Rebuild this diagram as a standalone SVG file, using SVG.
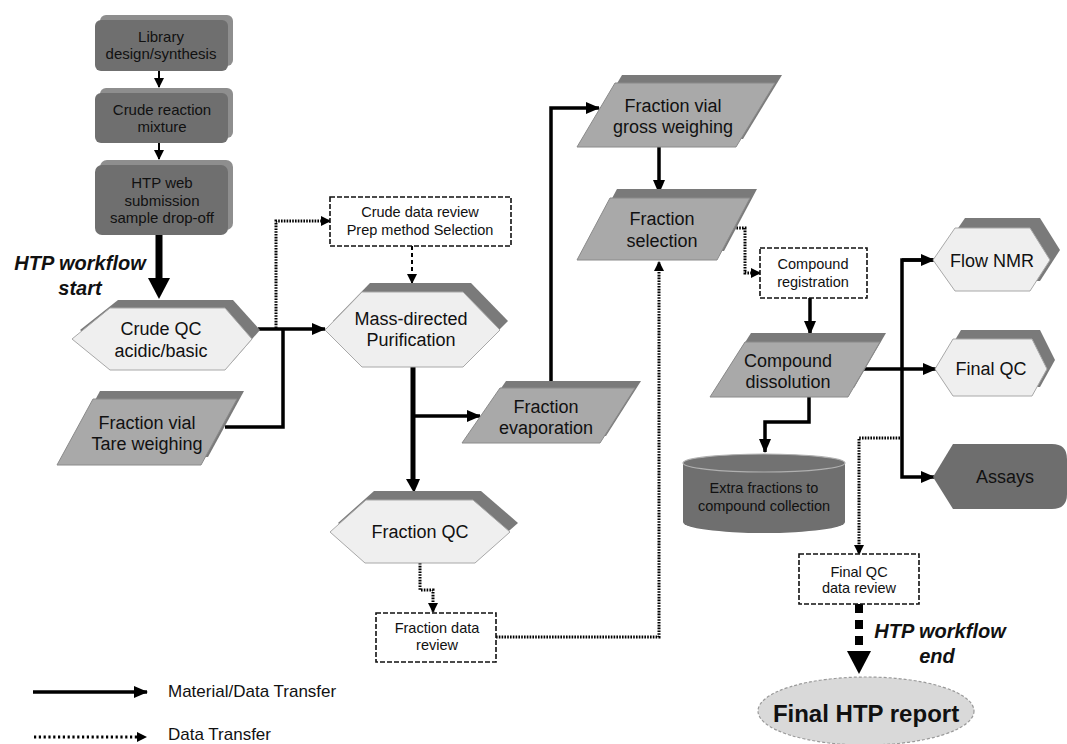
<svg xmlns="http://www.w3.org/2000/svg" width="1067" height="744" viewBox="0 0 1067 744">
<defs>
<style>
text{font-family:"Liberation Sans",Arial,sans-serif;fill:#111;text-anchor:middle}
.t18{font-size:18px}
.t15{font-size:15px}
.t145{font-size:14.5px}
.hi{font-size:20px;font-weight:bold;font-style:italic}
.dark{fill:#6f6f6f}
.darksh{fill:#8e8e8e}
.light{fill:#efefef;stroke:#a8a8a8;stroke-width:1}
.mid{fill:#a9a9a9;stroke:#8a8a8a;stroke-width:1}
.sh{fill:#7a7a7a}
.dbox{fill:#fff;stroke:#111;stroke-width:1.6;stroke-dasharray:5 2}
.solid{fill:none;stroke:#000;stroke-width:3.5}
.thin{fill:none;stroke:#000;stroke-width:2}
.dot{fill:none;stroke:#000;stroke-width:3;stroke-dasharray:1.6 1.2}
.dash{fill:none;stroke:#000;stroke-width:2;stroke-dasharray:4 3}
</style>
<marker id="ah" markerUnits="userSpaceOnUse" markerWidth="14" markerHeight="12" refX="13" refY="6" orient="auto"><path d="M0,0 L14,6 L0,12 Z" fill="#000"/></marker>
<marker id="ahs" markerUnits="userSpaceOnUse" markerWidth="10" markerHeight="10" refX="9" refY="5" orient="auto"><path d="M0,0 L10,5 L0,10 Z" fill="#000"/></marker>
</defs>
<rect width="1067" height="744" fill="#fff"/>

<g id="connectors">
<path class="thin" d="M159,71 V87" marker-end="url(#ahs)"/>
<path class="thin" d="M159,143 V159" marker-end="url(#ahs)"/>
<path d="M159,235 V280" stroke="#000" stroke-width="7" fill="none"/>
<path d="M148,278 L170,278 L159,299 Z" fill="#000"/>
<path class="solid" d="M258,329 H325" marker-end="url(#ah)"/>
<path class="solid" d="M225,427 H283 V329"/>
<path class="dot" d="M276,328 V221 H330" marker-end="url(#ahs)"/>
<path class="dash" d="M412,246 V283" marker-end="url(#ahs)"/>
<path d="M413,367 V480" stroke="#000" stroke-width="5" fill="none"/>
<path d="M406,479 L420,479 L414,493 Z" fill="#000"/>
<path class="solid" d="M413,416 H480" marker-end="url(#ah)"/>
<path class="solid" d="M551,381 V108 H599" marker-end="url(#ah)"/>
<path class="solid" d="M659,147 V193" marker-end="url(#ah)"/>
<path class="dot" d="M420,563 V590 H433 V612" marker-end="url(#ahs)"/>
<path class="dot" d="M496,637 H659 V262" marker-end="url(#ahs)"/>
<path class="dot" d="M728,228 H745 V273 H760" marker-end="url(#ahs)"/>
<path class="solid" d="M810,298 V334" marker-end="url(#ah)"/>
<path class="solid" d="M863,369 H936" marker-end="url(#ah)"/>
<path class="solid" d="M933,260 H902 V477 H934" marker-end="url(#ah)"/>
<path class="solid" d="M902,260 H934" marker-end="url(#ah)"/>
<path class="solid" d="M809,397 V422 H765 V452" marker-end="url(#ah)"/>
<path class="dot" d="M900,438 H859 V554" marker-end="url(#ahs)"/>
<path d="M859,604 V652" stroke="#000" stroke-width="8" stroke-dasharray="9 7" fill="none"/>
<path d="M847,651 L871,651 L859,674 Z" fill="#000"/>
</g>

<g id="library">
<rect class="darksh" x="100" y="15" width="133" height="51" rx="6"/>
<rect class="dark" x="95" y="20" width="133" height="51" rx="6"/>
<text class="t15" x="161" y="42">Library</text>
<text class="t15" x="161" y="59">design/synthesis</text>
</g>
<g id="crude-reaction">
<rect class="darksh" x="100" y="88" width="133" height="50" rx="6"/>
<rect class="dark" x="95" y="93" width="133" height="50" rx="6"/>
<text class="t15" x="162" y="115">Crude reaction</text>
<text class="t15" x="162" y="132">mixture</text>
</g>
<g id="htp-web">
<rect class="darksh" x="100" y="160" width="133" height="70" rx="7"/>
<rect class="dark" x="95" y="165" width="133" height="70" rx="7"/>
<text class="t15" x="162" y="188">HTP web</text>
<text class="t15" x="162" y="206">submission</text>
<text class="t15" x="162" y="223">sample drop-off</text>
</g>
<g id="start-label">
<text class="hi" x="80" y="270">HTP workflow</text>
<text class="hi" x="80" y="295">start</text>
</g>

<g id="crude-qc">
<polygon class="sh" points="80,330 118,300 233,300 260,330 233,361 118,361"/>
<polygon class="light" points="72,339 110,308 225,308 252,339 225,370 110,370"/>
<text class="t18" x="161" y="335">Crude QC</text>
<text class="t18" x="161" y="357">acidic/basic</text>
</g>
<g id="tare">
<polygon class="sh" points="100,391 244,391 208,457 64,457"/>
<polygon class="mid" points="93,399 237,399 201,465 57,465"/>
<text class="t18" x="147" y="429">Fraction vial</text>
<text class="t18" x="147" y="450">Tare weighing</text>
</g>
<g id="crude-review">
<rect class="dbox" x="330" y="197" width="181" height="49"/>
<text class="t145" x="420" y="217">Crude data review</text>
<text class="t145" x="420" y="235">Prep method Selection</text>
</g>
<g id="mass-directed">
<polygon class="sh" points="333,321 370,283 471,283 508,321 471,358 370,358"/>
<polygon class="light" points="325,330 362,292 463,292 500,330 463,367 362,367"/>
<text class="t18" x="411" y="325">Mass-directed</text>
<text class="t18" x="411" y="346">Purification</text>
</g>
<g id="evaporation">
<polygon class="sh" points="506,381 641,381 606,436 468,436"/>
<polygon class="mid" points="500,388 635,388 600,443 462,443"/>
<text class="t18" x="546" y="413">Fraction</text>
<text class="t18" x="546" y="434">evaporation</text>
</g>
<g id="fraction-qc">
<polygon class="sh" points="338,523 374,491 481,491 518,523 483,554 373,554"/>
<polygon class="light" points="330,532 366,500 473,500 510,532 475,563 365,563"/>
<text class="t18" x="420" y="538">Fraction QC</text>
</g>
<g id="fraction-review">
<rect class="dbox" x="376" y="613" width="120" height="49"/>
<text class="t145" x="437" y="633">Fraction data</text>
<text class="t145" x="437" y="650">review</text>
</g>
<g id="gross-weighing">
<polygon class="sh" points="622,75 782,75 743,139 584,139"/>
<polygon class="mid" points="615,83 775,83 736,147 577,147"/>
<text class="t18" x="673" y="112">Fraction vial</text>
<text class="t18" x="673" y="133">gross weighing</text>
</g>
<g id="selection">
<polygon class="sh" points="617,189 757,189 724,251 584,251"/>
<polygon class="mid" points="610,198 750,198 717,260 577,260"/>
<text class="t18" x="662" y="225">Fraction</text>
<text class="t18" x="662" y="247">selection</text>
</g>
<g id="registration">
<rect class="dbox" x="760" y="248" width="107" height="50"/>
<text class="t145" x="813" y="269">Compound</text>
<text class="t145" x="813" y="287">registration</text>
</g>
<g id="dissolution">
<polygon class="sh" points="751,333 886,333 854,388 716,388"/>
<polygon class="mid" points="745,342 880,342 848,397 710,397"/>
<text class="t18" x="788" y="367">Compound</text>
<text class="t18" x="788" y="388">dissolution</text>
</g>
<g id="extra-fractions">
<path d="M683,463 V522 A81,11 0 0 0 845,522 V463 Z" fill="#6f6f6f"/>
<ellipse cx="764" cy="463" rx="81" ry="9" fill="#727272" stroke="#b0b0b0" stroke-width="1.2"/>
<text class="t145" x="764" y="493">Extra fractions to</text>
<text class="t145" x="764" y="511">compound collection</text>
</g>
<g id="flow-nmr">
<polygon class="sh" points="943,250 965,218 1040,218 1060,250 1040,281 965,281"/>
<polygon class="light" points="933,260 955,228 1030,228 1050,260 1030,291 955,291"/>
<text class="t18" x="992" y="267">Flow NMR</text>
</g>
<g id="final-qc">
<polygon class="sh" points="943,360 961,330 1040,330 1055,360 1040,387 961,387"/>
<polygon class="light" points="935,369 953,339 1032,339 1047,369 1032,396 953,396"/>
<text class="t18" x="991" y="375">Final QC</text>
</g>
<g id="assays">
<path d="M933,477 L953,444 H1052 Q1067,444 1067,459 V494 Q1067,509 1052,509 H953 Z" fill="#6e6e6e"/>
<text class="t18" x="1005" y="483">Assays</text>
</g>
<g id="final-qc-review">
<rect class="dbox" x="799" y="554" width="120" height="50"/>
<text class="t145" x="859" y="577">Final QC</text>
<text class="t145" x="859" y="593">data review</text>
</g>
<g id="end-label">
<text class="hi" x="940" y="638">HTP workflow</text>
<text class="hi" x="937" y="663">end</text>
</g>
<g id="final-report">
<ellipse cx="866" cy="711" rx="108" ry="34" fill="#d9d9d9" stroke="#9a9a9a" stroke-width="1.2" stroke-dasharray="3 2"/>
<text x="866" y="722" style="font-size:24px;font-weight:bold">Final HTP report</text>
</g>

<g id="legend">
<path class="solid" d="M33,692 H147" marker-end="url(#ah)"/>
<path d="M34,737 H137" fill="none" stroke="#000" stroke-width="3" stroke-dasharray="2.2 2.6"/>
<path d="M137,732 L147,737 L137,742 Z" fill="#000"/>
<text x="168" y="697" style="font-size:17px;text-anchor:start">Material/Data Transfer</text>
<text x="168" y="740" style="font-size:17px;text-anchor:start">Data Transfer</text>
</g>
</svg>
